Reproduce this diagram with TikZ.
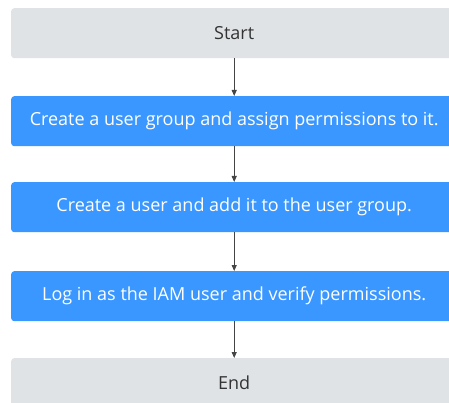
\documentclass[tikz,border=0pt]{standalone}
\usepackage{fontspec}
\setmainfont{Open Sans}
\usetikzlibrary{arrows.meta}
\definecolor{boxblue}{HTML}{3A97FF}
\definecolor{boxgray}{HTML}{E0E3E6}
\definecolor{txtgray}{HTML}{333333}
\definecolor{arrowgray}{HTML}{444444}
\begin{document}
\begin{tikzpicture}[x=1pt,y=-1pt,
  stepbox/.style={draw=none,rounded corners=3pt,minimum width=446pt,minimum height=50pt,
    inner sep=0pt,font=\fontsize{18}{21}\selectfont,anchor=north west},
  graybox/.style={stepbox,fill=boxgray,text=txtgray},
  bluebox/.style={stepbox,fill=boxblue,text=white},
  conn/.style={draw=arrowgray,line width=0.9pt,-{Triangle[length=6pt,width=5pt]}}]
\useasboundingbox (0,0) rectangle (449,403);
\clip (0,0) rectangle (449,403);
\node[graybox] (start) at (11,8) {Start};
\node[bluebox] (s1) at (11,96) {Create a user group and assign permissions to it.};
\node[bluebox] (s2) at (11,182) {Create a user and add it to the user group.};
\node[bluebox] (s3) at (11,271) {Log in as the IAM user and verify permissions.};
\node[graybox] (end) at (11,358) {End};
\draw[conn] (start) -- (s1);
\draw[conn] (s1) -- (s2);
\draw[conn] (s2) -- (s3);
\draw[conn] (s3) -- (end);
\end{tikzpicture}
\end{document}
